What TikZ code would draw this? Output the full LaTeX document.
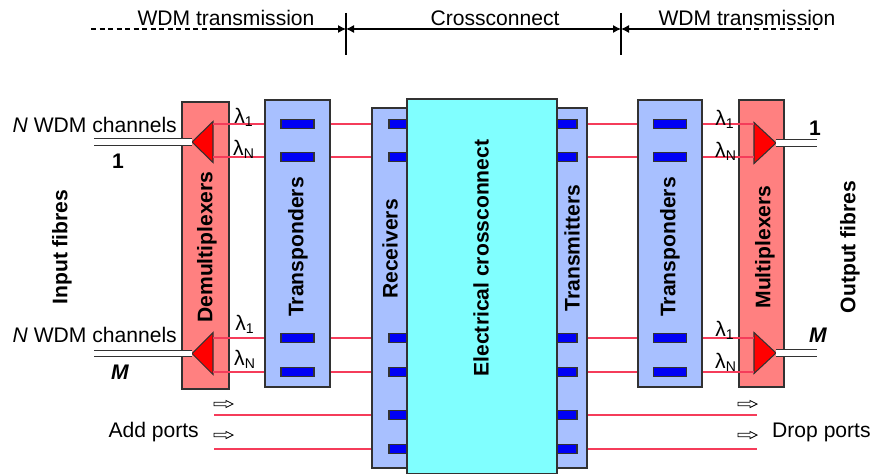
\documentclass[tikz,border=0pt]{standalone}
\usepackage{fontspec}
\setmainfont{Liberation Sans}
\usepackage{xcolor}
\usetikzlibrary{arrows.meta, positioning, calc}
\definecolor{muxred}{RGB}{255,128,128}
\definecolor{trired}{RGB}{255,0,0}
\definecolor{boxblue}{RGB}{168,192,255}
\definecolor{xccyan}{RGB}{128,255,255}
\definecolor{padblue}{RGB}{0,0,245}
\definecolor{chanred}{RGB}{245,60,90}
\definecolor{myedge}{RGB}{50,50,50}
\tikzset{
  redbox/.style={rectangle, draw=myedge, fill=muxred, line width=0.8pt, inner sep=0pt},
  bluebox/.style={rectangle, draw=myedge, fill=boxblue, line width=0.8pt, inner sep=0pt},
  xcbox/.style={rectangle, draw=myedge, fill=xccyan, line width=0.8pt, inner sep=0pt},
  pad/.style={rectangle, draw=myedge, fill=padblue, minimum width=0.66cm,
    minimum height=0.18cm, inner sep=0pt, line width=0.6pt},
  shortpad/.style={pad, minimum width=0.44cm},
  tri/.style={draw=myedge, fill=trired, line width=0.6pt},
  chan/.style={color=chanred, line width=0.8pt},
  fibre/.style={draw=myedge, double=white, double distance=3pt, line width=0.7pt},
  vlabel/.style={rotate=90, font=\fontsize{12}{14}\selectfont\bfseries},
  dimarrow/.style={-{Latex[length=1.6mm, width=1.6mm]}, line width=0.6pt},
  portarrow/.style={draw=black, fill=white, line width=0.5pt, line join=miter}
}

\begin{document}
\begin{tikzpicture}[font=\fontsize{12}{14}\selectfont]
  \useasboundingbox (0,0) rectangle (17.5,9.46);

  % --- Header ---
  \coordinate (tkA) at (6.92,8.88);
  \coordinate (tkB) at (12.42,8.88);
  \coordinate (dashL) at (1.82,8.88);
  \coordinate (solL) at (4.24,8.88);
  \coordinate (solR) at (14.74,8.88);
  \coordinate (dashR) at (16.36,8.88);
  \draw[dashed, dash pattern=on 1mm off 0.7mm, line width=0.6pt] (dashL) -- (solL);
  \draw[dimarrow] (solL) -- (tkA);
  \draw[dimarrow, {Latex[length=1.6mm, width=1.6mm]}-{Latex[length=1.6mm, width=1.6mm]}] (tkA) -- (tkB);
  \draw[dimarrow] (solR) -- (tkB);
  \draw[dashed, dash pattern=on 1mm off 0.7mm, line width=0.6pt] (solR) -- (dashR);
  \draw[line width=0.6pt] (tkA) ++(0,0.32) -- ++(0,-0.84);
  \draw[line width=0.6pt] (tkB) ++(0,0.32) -- ++(0,-0.84);
  \node (wdmL) at (4.52,9.10) {WDM transmission};
  \node (xcL) at (9.90,9.10) {Crossconnect};
  \node (wdmR) at (14.94,9.10) {WDM transmission};

  % --- Levels of the channel lines ---
  \coordinate (yA) at (0,6.98);
  \coordinate (yB) at (0,6.32);
  \coordinate (yC) at (0,2.70);
  \coordinate (yD) at (0,2.02);
  \coordinate (yE) at (0,1.16);
  \coordinate (yF) at (0,0.48);

  % --- Electrical crossconnect ---
  \node[bluebox, minimum width=1.36cm, minimum height=7.20cm] (rx) at (8.12,3.70) {};
  \node[bluebox, minimum width=1.26cm, minimum height=7.20cm] (tx) at (11.11,3.70) {};
  \foreach \lv in {yA,yB,yC,yD,yE,yF} {
    \node[shortpad] (rxpad\lv) at (8.00,0 |- \lv) {};
    \node[shortpad] (txpad\lv) at (11.32,0 |- \lv) {};
  }
  \node[xcbox, minimum width=3.00cm, minimum height=7.50cm] (xc) at (9.64,3.73) {};

  % --- Transponders ---
  \node[bluebox, minimum width=1.30cm, minimum height=5.74cm] (tpl) at (5.95,4.59) {};
  \node[bluebox, minimum width=1.28cm, minimum height=5.74cm] (tpr) at (13.40,4.59) {};
  \foreach \lv in {yA,yB,yC,yD} {
    \node[pad] (tplpad\lv) at (tpl |- \lv) {};
    \node[pad] (tprpad\lv) at (tpr |- \lv) {};
  }

  % --- Demultiplexers / multiplexers ---
  \node[redbox, minimum width=0.94cm, minimum height=5.74cm] (demux) at (4.11,4.55) {};
  \node[redbox, minimum width=0.90cm, minimum height=5.74cm] (mux) at (15.23,4.59) {};
  \coordinate (dmA) at (4.26,6.62);
  \coordinate (dmB) at (4.26,2.39);
  \coordinate (mxA) at (15.08,6.60);
  \coordinate (mxB) at (15.08,2.40);
  \coordinate (inA) at (1.88,6.62);
  \coordinate (inB) at (1.88,2.39);
  \coordinate (outA) at (16.34,6.60);
  \coordinate (outB) at (16.34,2.40);
  \draw[tri] (dmA) ++(0,0.41) -- ++(-0.42,-0.41) coordinate (dmAtip) -- ++(0.42,-0.41) -- cycle;
  \draw[tri] (dmB) ++(0,0.42) -- ++(-0.42,-0.42) coordinate (dmBtip) -- ++(0.42,-0.42) -- cycle;
  \draw[tri] (mxA) ++(0,0.41) -- ++(0.44,-0.41) coordinate (mxAtip) -- ++(-0.44,-0.41) -- cycle;
  \draw[tri] (mxB) ++(0,0.41) -- ++(0.44,-0.41) coordinate (mxBtip) -- ++(-0.44,-0.41) -- cycle;
  \draw[fibre] (inA) -- (dmAtip);
  \draw[fibre] (inB) -- (dmBtip);
  \draw[fibre] (mxAtip) -- (outA);
  \draw[fibre] (mxBtip) -- (outB);

  % --- Channel lines ---
  \foreach \lv in {yA,yB,yC,yD} {
    \draw[chan] (dmA |- \lv) -- (tpl.west |- \lv);
    \draw[chan] (tpl.east |- \lv) -- (rx.west |- \lv);
    \draw[chan] (tx.east |- \lv) -- (tpr.west |- \lv);
    \draw[chan] (tpr.east |- \lv) -- (mxA |- \lv);
  }
  \coordinate (addS) at (4.28,0);
  \coordinate (dropE) at (15.14,0);
  \foreach \lv in {yE,yF} {
    \draw[chan] (addS |- \lv) -- (rx.west |- \lv);
    \draw[chan] (tx.east |- \lv) -- (dropE |- \lv);
  }

  % --- Add / drop ports ---
  \coordinate (addA) at (4.28,1.38);
  \coordinate (addB) at (4.28,0.76);
  \coordinate (dropA) at (14.76,1.38);
  \coordinate (dropB) at (14.76,0.76);
  \foreach \pt in {addA,addB,dropA,dropB}
    \draw[portarrow] (\pt) ++(0,0.035) -- ++(0.24,0) -- ++(0,0.035)
      -- ++(0.14,-0.07) -- ++(-0.14,-0.07) -- ++(0,0.035) -- ++(-0.24,0) -- cycle;
  \node[anchor=east] (addL) at (4.10,0.82) {Add ports};
  \node[anchor=west] (dropL) at (15.32,0.82) {Drop ports};

  % --- Labels ---
  \node[anchor=east] (chA) at (3.66,6.96) {\itshape N\upshape{} WDM channels};
  \node[anchor=east] (chB) at (3.66,2.76) {\itshape N\upshape{} WDM channels};
  \node[font=\fontsize{12}{14}\selectfont\bfseries] (oneL) at (2.36,6.24) {1};
  \node[font=\fontsize{12}{14}\selectfont\bfseries\itshape] (mL) at (2.40,2.02) {M};
  \node[font=\fontsize{12}{14}\selectfont\bfseries] (oneR) at (16.30,6.90) {1};
  \node[font=\fontsize{12}{14}\selectfont\bfseries\itshape] (mR) at (16.36,2.76) {M};

  \node (lamLA) at (4.88,7.12) {λ\textsubscript{1}};
  \node (lamLB) at (4.88,6.48) {λ\textsubscript{N}};
  \node (lamLC) at (4.90,2.98) {λ\textsubscript{1}};
  \node (lamLD) at (4.90,2.28) {λ\textsubscript{N}};
  \node (lamRA) at (14.50,7.08) {λ\textsubscript{1}};
  \node (lamRB) at (14.52,6.44) {λ\textsubscript{N}};
  \node (lamRC) at (14.50,2.86) {λ\textsubscript{1}};
  \node (lamRD) at (14.52,2.22) {λ\textsubscript{N}};

  \node[vlabel] (inTxt) at (1.24,4.52) {Input fibres};
  \node[vlabel] (demuxTxt) at (4.14,4.52) {Demultiplexers};
  \node[vlabel] (tplTxt) at (5.96,4.52) {Transponders};
  \node[vlabel] (rxTxt) at (7.80,4.48) {Receivers};
  \node[vlabel] (xcTxt) at (9.62,4.30) {Electrical crossconnect};
  \node[vlabel] (txTxt) at (11.44,4.50) {Transmitters};
  \node[vlabel] (tprTxt) at (13.40,4.52) {Transponders};
  \node[vlabel] (muxTxt) at (15.30,4.52) {Multiplexers};
  \node[vlabel] (outTxt) at (17.00,4.52) {Output fibres};
\end{tikzpicture}
\end{document}
